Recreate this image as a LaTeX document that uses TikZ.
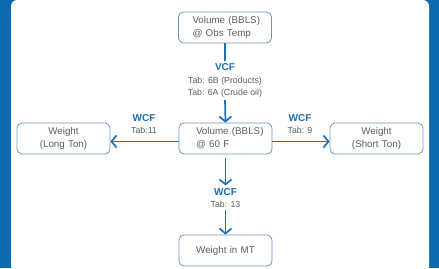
\documentclass[tikz,border=0pt]{standalone}
\usepackage{fontspec}
\setmainfont{Liberation Sans}
\usetikzlibrary{arrows.meta}
\definecolor{frameblue}{HTML}{0B6AB2}
\definecolor{arrblue}{HTML}{1B70B6}
\definecolor{boxline}{HTML}{6F95BE}
\definecolor{txt}{HTML}{5E5E5E}
\begin{document}
\begin{tikzpicture}[x=1pt,y=-1pt,
  box/.style={draw=boxline, line width=0.8pt, rounded corners=5pt,
    minimum width=93pt, minimum height=31pt, text width=91pt,
    inner xsep=1pt, inner ysep=0pt, align=left,
    font=\fontsize{9.8}{13}\selectfont, text=txt},
  cbox/.style={box, align=center},
  lab/.style={align=center, font=\fontsize{8.8}{12.5}\selectfont, text=txt, inner sep=2.5pt},
  arr/.style={draw=arrblue, line width=1.7pt,
    -{Straight Barb[length=5pt,width=12pt,line width=1.7pt]}},
  ln/.style={draw=arrblue, line width=1.7pt}]
\useasboundingbox (0,0) rectangle (439,268);
\fill[frameblue] (0,0) rectangle (439,268);
\fill[white, rounded corners=6pt] (11,0) rectangle (429,290);

\newcommand{\hdr}[1]{{\fontsize{10}{12.5}\selectfont\bfseries\color{arrblue}#1}}

\node[box] (top) at (225,27.5) {\hspace*{13pt}Volume (BBLS)\\\hspace*{13pt}@ Obs Temp};
\node[box] (mid) at (225.5,138.5) {\hspace*{16pt}Volume (BBLS)\\\hspace*{16pt}@ 60 F};
\node[cbox] (left) at (63.5,138.5) {Weight\\(Long Ton)};
\node[cbox] (right) at (376.5,138.5) {Weight\\(Short Ton)};
\node[cbox] (bot) at (225.5,250.5) {Weight in MT};

\node[lab] (vcf) at (225,80.5) {\hdr{VCF}\\Tab: 6B (Products)\\Tab: 6A (Crude oil)};
\node[lab] (wcfL) at (144,124) {\hdr{WCF}\\Tab:11};
\node[lab] (wcfR) at (300,124) {\hdr{WCF}\\Tab: 9};
\node[lab] (wcfD) at (225.5,198) {\hdr{WCF}\\Tab: 13};

\draw[ln] (top.south) -- (vcf.north);
\draw[arr] (vcf.south) -- (mid.north);
\draw[arr] ([yshift=-3pt]mid.west) -- ([yshift=-3pt]left.east);
\draw[arr] ([yshift=-3pt]mid.east) -- ([yshift=-3pt]right.west);
\draw[arr, shorten <=4pt] (mid.south) -- (wcfD.north);
\draw[arr] (wcfD.south) -- (bot.north);
\end{tikzpicture}
\end{document}
